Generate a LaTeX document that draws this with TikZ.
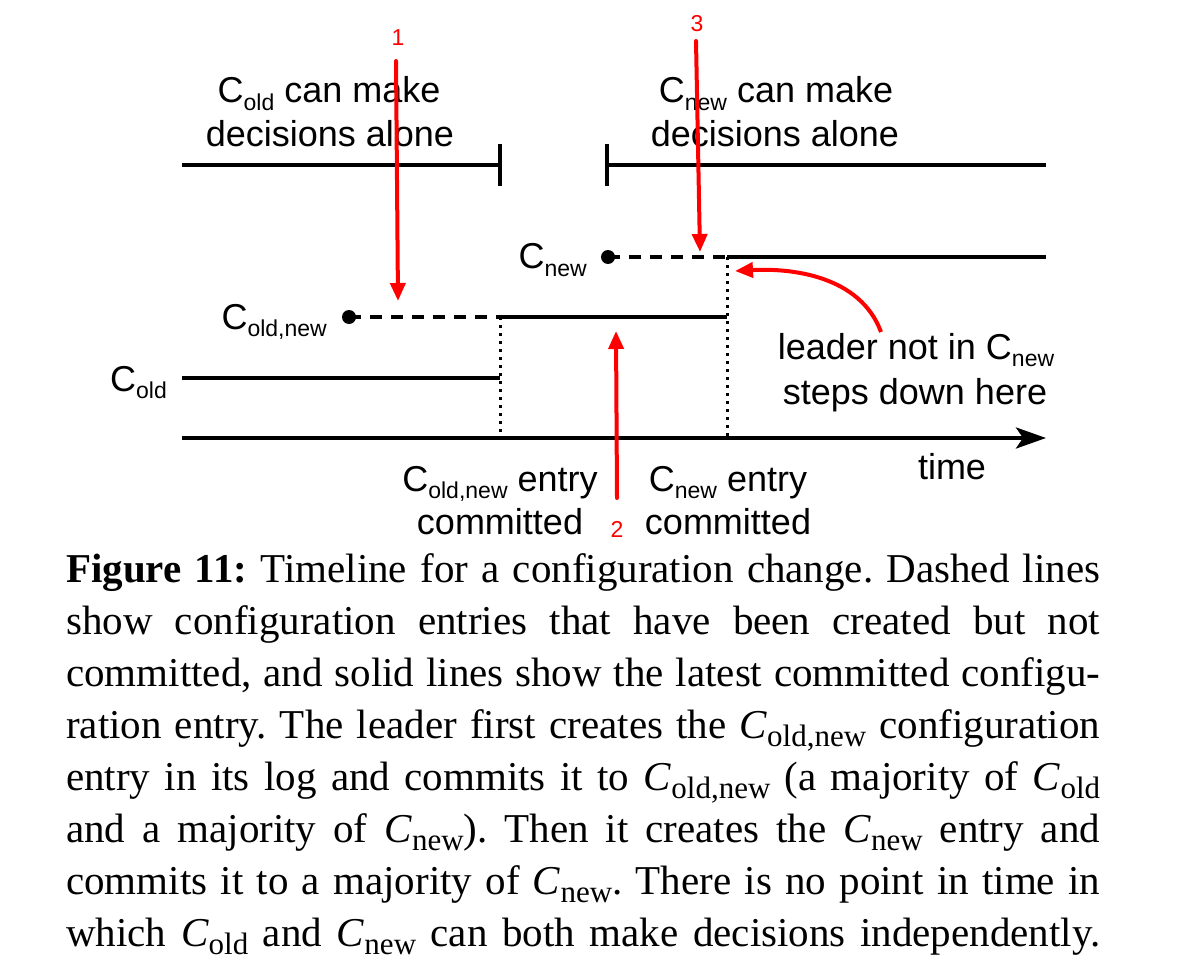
\documentclass[tikz,border=0pt]{standalone}
\usepackage{fontspec}
\setmainfont{Liberation Serif}
\newfontfamily\diagfont{Liberation Sans}
\usetikzlibrary{arrows.meta}
\newcommand\dC[1]{C\raisebox{-7.5pt}{\fontsize{23}{23}\selectfont #1}}
\newcommand\cC[1]{\textit{C}\raisebox{-8pt}{\fontsize{31}{31}\selectfont #1}}
\newcommand\capline[1]{\hbox to 1034pt{#1}}
\tikzset{
  lbl/.style={font=\diagfont\fontsize{36}{42}\selectfont, inner sep=0pt, anchor=base},
  num/.style={font=\diagfont\fontsize{23}{23}\selectfont, text=red, inner sep=0pt, anchor=base},
  bl/.style={line width=4pt, black},
  dsh/.style={line width=4pt, dash pattern=on 12pt off 9pt},
  dotline/.style={line width=3pt, dash pattern=on 3pt off 5pt},
  redarrow/.style={line width=4pt, red, line cap=round, -{Triangle[length=18pt,width=15pt]}},
}
\begin{document}
\begin{tikzpicture}[x=1pt,y=-1pt]
\useasboundingbox (0,0) rectangle (1182,976);
% top timelines
\coordinate (a1) at (182,165); \coordinate (a2) at (500,165);
\coordinate (b1) at (607,165); \coordinate (b2) at (1046,165);
\draw[bl] (a1) -- (a2);
\draw[bl] (a2) ++(0,-21) -- ++(0,42);
\draw[bl] (b1) -- (b2);
\draw[bl] (b1) ++(0,-21) -- ++(0,42);
\node[lbl] (t1a) at (329,103) {\dC{old} can make};
\node[lbl] (t1b) at (330,147) {decisions alone};
\node[lbl] (t2a) at (776,103) {\dC{new} can make};
\node[lbl] (t2b) at (775,147) {decisions alone};
% configurations
\coordinate (o1) at (182,378); \coordinate (o2) at (500,378);
\coordinate (cn0) at (349,317); \coordinate (cn1) at (500,317); \coordinate (cn2) at (727,317);
\coordinate (n0) at (608,257); \coordinate (n1) at (727,257); \coordinate (n2) at (1046,257);
\coordinate (t0) at (182,438); \coordinate (t1) at (1046,438);
\coordinate (x1) at (500,438); \coordinate (x2) at (727,438);
\draw[bl] (o1) -- (o2);
\draw[dsh] (cn0) -- (cn1);
\draw[bl] (cn1) -- (cn2);
\draw[dsh] (n0) -- (n1);
\draw[bl] (n1) -- (n2);
\fill (cn0) circle (7pt);
\fill (n0) circle (7pt);
\draw[dotline] (cn1) -- (x1);
\draw[dotline] (n1) -- (x2);
\draw[line width=4pt, -{Stealth[length=30pt,width=21pt,inset=7pt]}] (t0) -- (t1);
\node[lbl, anchor=base east] (lold) at (167,391) {\dC{old}};
\node[lbl, anchor=base east] (loldnew) at (327,329) {\dC{old,new}};
\node[lbl, anchor=base east] (lnew) at (587,269) {\dC{new}};
\node[lbl] (b1a) at (500,491) {\dC{old,new} entry};
\node[lbl] (b1b) at (500,534) {committed};
\node[lbl] (b2a) at (728,491) {\dC{new} entry};
\node[lbl] (b2b) at (728,534) {committed};
\node[lbl] (time) at (952,479) {time};
\node[lbl] (la) at (916,359) {leader not in \dC{new}};
\node[lbl] (lb) at (915,404) {steps down here};
% red annotations
\coordinate (r1s) at (396,61); \coordinate (r1e) at (398,301);
\coordinate (r3s) at (696,41); \coordinate (r3e) at (700,252);
\coordinate (r2s) at (617,498); \coordinate (r2e) at (616,331);
\coordinate (cs) at (881,332); \coordinate (ce) at (735,271);
\node[num] (m1) at (398,46) {1};
\node[num] (m3) at (697,32) {3};
\node[num] (m2) at (617,537) {2};
\draw[redarrow] (r1s) -- (r1e);
\draw[redarrow] (r3s) -- (r3e);
\draw[redarrow] (r2s) -- (r2e);
\draw[redarrow, line cap=butt] (cs) .. controls (860,275) and (790,268) .. (ce);
% caption
\node[anchor=base west, inner sep=0pt] (cap) at (66,582) {\parbox[t]{1034pt}{\fontsize{41}{52}\selectfont\frenchspacing
\capline{\textbf{Figure 11:} Timeline for a configuration change. Dashed lines}%
\capline{show configuration entries that have been created but not}%
\capline{committed, and solid lines show the latest committed configu-}%
\capline{ration entry. The leader first creates the \cC{old,new} configuration}%
\capline{entry in its log and commits it to \cC{old,new} (a majority of \cC{old}}%
\capline{and a majority of \cC{new}). Then it creates the \cC{new} entry and}%
\capline{commits it to a majority of \cC{new}. There is no point in time in}%
\capline{which \cC{old} and \cC{new} can both make decisions independently.}}};
\end{tikzpicture}
\end{document}
